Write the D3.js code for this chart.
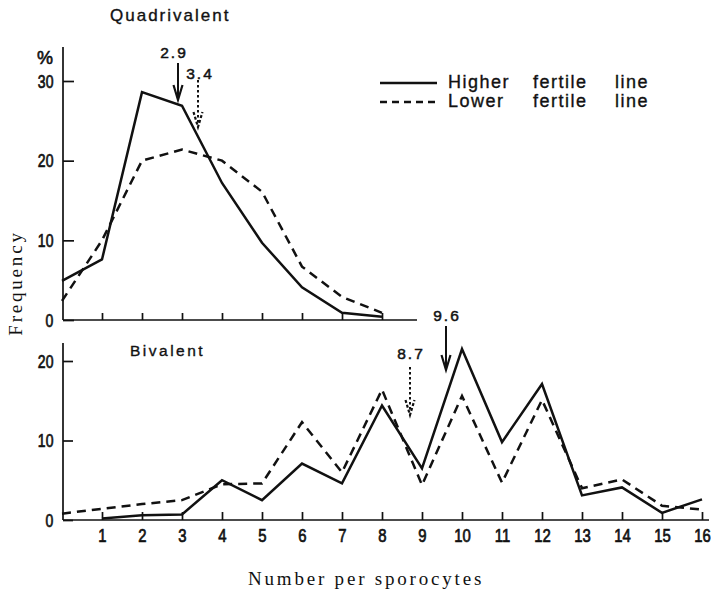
<!DOCTYPE html>
<html>
<head>
<meta charset="utf-8">
<script src="https://cdn.jsdelivr.net/npm/d3@7/dist/d3.min.js"></script>
<style>
  html, body { margin: 0; padding: 0; background: #fff; }
  svg { display: block; }
</style>
</head>
<body>
<svg id="chart" width="711" height="593"></svg>
<script>
// ---------- data ----------
const quadN = [0, 1, 2, 3, 4, 5, 6, 7, 8];
const quadHigher = [4.9, 7.6, 28.6, 26.9, 17.2, 9.7, 4.1, 0.9, 0.4];
const quadLower  = [2.4, 10.0, 20.0, 21.4, 20.0, 16.1, 6.7, 2.9, 0.9];

const bivHigherN = [1, 2, 3, 4, 5, 6, 7, 8, 9, 10, 11, 12, 13, 14, 15, 16];
const bivHigher  = [0.2, 0.6, 0.7, 5.0, 2.5, 7.1, 4.6, 14.4, 6.5, 21.5, 9.8, 17.1, 3.1, 4.1, 0.9, 2.6];
const bivLowerN  = [0, 1, 2, 3, 4, 5, 6, 7, 8, 9, 10, 11, 12, 13, 14, 15, 16];
const bivLower   = [0.8, 1.4, 2.0, 2.5, 4.5, 4.6, 12.3, 6.0, 16.4, 4.4, 15.6, 4.7, 15.1, 4.0, 5.1, 1.8, 1.3];

const quadMeanLabels = ["2.9", "3.4"];
const quadMeanValues = [2.9, 3.4];
const bivMeanLabels  = ["9.6", "8.7"];
const bivMeanValues  = [9.6, 8.7];

const xTicksTop = [1, 2, 3, 4, 5, 6, 7, 8];
const xTicksBottom = [1, 2, 3, 4, 5, 6, 7, 8, 9, 10, 11, 12, 13, 14, 15, 16];
const yTicksTop = [0, 10, 20, 30];
const yTicksBottom = [0, 10, 20];

const legendLabels = [["Higher", "fertile", "line"], ["Lower", "fertile", "line"]];

// ---------- setup ----------
const svg = d3.select("#chart");
const ink = "#111";
const digitFont = "'Liberation Sans', Arial, sans-serif";
const serif = "'Liberation Serif', 'Times New Roman', serif";
const dash = "9,6";

const x = d3.scaleLinear().domain([0, 16]).range([62, 702]);
const yTop = d3.scaleLinear().domain([0, 30]).range([320, 81]);
const yBot = d3.scaleLinear().domain([0, 20]).range([520, 361]);
const axisX0 = 63;

function heavy(sel, w) {
  return sel.attr("stroke", ink).attr("stroke-width", w).attr("paint-order", "stroke");
}

function styleAxis(g) {
  g.select(".domain").remove();
  g.selectAll(".tick line").attr("stroke", ink).attr("stroke-width", 1.7);
  heavy(g.selectAll(".tick text"), 0.7)
    .attr("fill", ink)
    .style("font-family", digitFont)
    .style("font-size", "17.5px");
}

// ---------- top panel ----------
const topG = svg.append("g");
topG.append("line").attr("x1", axisX0).attr("x2", axisX0).attr("y1", 47).attr("y2", yTop(0))
  .attr("stroke", ink).attr("stroke-width", 1.7);
topG.append("line").attr("x1", axisX0).attr("x2", 417).attr("y1", yTop(0)).attr("y2", yTop(0))
  .attr("stroke", ink).attr("stroke-width", 1.7);

topG.append("g").attr("transform", `translate(0,${yTop(0)})`)
  .call(d3.axisBottom(x).tickValues(xTicksTop).tickSizeInner(-7).tickSizeOuter(0).tickFormat(""))
  .call(styleAxis);

topG.append("g").attr("transform", `translate(${axisX0},0)`)
  .call(d3.axisLeft(yTop).tickValues(yTicksTop).tickSizeInner(-11).tickSizeOuter(0).tickPadding(12))
  .call(styleAxis)
  .call(g => g.selectAll(".tick text").attr("transform", "scale(0.8,1)").attr("dy", "0.36em"));

heavy(topG.append("text"), 0.6).attr("x", 45).attr("y", 64).attr("text-anchor", "middle")
  .style("font-family", digitFont).style("font-size", "18px").attr("fill", ink).text("%");

heavy(topG.append("text"), 0.35).attr("x", 110).attr("y", 21)
  .style("font-family", digitFont).style("font-size", "17px").style("letter-spacing", "2px")
  .attr("fill", ink).text("Quadrivalent");

const lineGen = (xs, yScale) => d3.line().x((d, i) => x(xs[i])).y(d => yScale(d));

topG.append("path").datum(quadLower).attr("d", lineGen(quadN, yTop))
  .attr("fill", "none").attr("stroke", ink).attr("stroke-width", 2.5).attr("stroke-dasharray", dash);
topG.append("path").datum(quadHigher).attr("d", lineGen(quadN, yTop))
  .attr("fill", "none").attr("stroke", ink).attr("stroke-width", 2.5);

// ---------- bottom panel ----------
const botG = svg.append("g");
botG.append("line").attr("x1", axisX0).attr("x2", axisX0).attr("y1", 343).attr("y2", yBot(0))
  .attr("stroke", ink).attr("stroke-width", 1.7);
botG.append("line").attr("x1", axisX0).attr("x2", 709).attr("y1", yBot(0)).attr("y2", yBot(0))
  .attr("stroke", ink).attr("stroke-width", 1.7);

botG.append("g").attr("transform", `translate(0,${yBot(0)})`)
  .call(d3.axisBottom(x).tickValues(xTicksBottom).tickSizeInner(-8).tickSizeOuter(0).tickPadding(10))
  .call(styleAxis)
  .call(g => g.selectAll(".tick text").attr("transform", "scale(0.85,1)"));

botG.append("g").attr("transform", `translate(${axisX0},0)`)
  .call(d3.axisLeft(yBot).tickValues(yTicksBottom).tickSizeInner(-10).tickSizeOuter(0).tickPadding(12))
  .call(styleAxis)
  .call(g => g.selectAll(".tick text").attr("transform", "scale(0.8,1)").attr("dy", "0.36em"));

heavy(botG.append("text"), 0.35).attr("x", 130).attr("y", 356)
  .style("font-family", digitFont).style("font-size", "15.5px").style("letter-spacing", "2.5px")
  .attr("fill", ink).text("Bivalent");

botG.append("path").datum(bivLower).attr("d", lineGen(bivLowerN, yBot))
  .attr("fill", "none").attr("stroke", ink).attr("stroke-width", 2.5).attr("stroke-dasharray", dash);
botG.append("path").datum(bivHigher).attr("d", lineGen(bivHigherN, yBot))
  .attr("fill", "none").attr("stroke", ink).attr("stroke-width", 2.5);

// ---------- mean arrows ----------
function arrow(g, xv, y1, y2, dotted, label, lx, ly) {
  const px = x(xv);
  g.append("line").attr("x1", px).attr("x2", px).attr("y1", y1).attr("y2", y2 - 3)
    .attr("stroke", ink).attr("stroke-width", 2)
    .attr("stroke-dasharray", dotted ? "2.5,2.5" : null);
  g.append("path").attr("d", `M${px - 4.5},${y2 - 15} L${px},${y2} L${px + 4.5},${y2 - 15}`)
    .attr("fill", "none").attr("stroke", ink).attr("stroke-width", 2.2)
    .attr("stroke-dasharray", dotted ? "3,2" : null);
  heavy(g.append("text"), 0.5).attr("x", px + lx).attr("y", ly).attr("text-anchor", "middle")
    .style("font-family", digitFont).style("font-size", "15.5px").style("letter-spacing", "2px")
    .attr("fill", ink).text(label);
}
arrow(topG, quadMeanValues[0], 63, 100, false, quadMeanLabels[0], -4, 58);
arrow(topG, quadMeanValues[1], 80, 127, true, quadMeanLabels[1], 2, 79);
arrow(botG, bivMeanValues[0], 326, 370, false, bivMeanLabels[0], 1, 321);
arrow(botG, bivMeanValues[1], 367, 415, true, bivMeanLabels[1], 1, 359);

// ---------- legend ----------
const legend = svg.append("g");
const legendY = [83, 102];
const wordX = [448, 533, 615];
legendLabels.forEach((words, i) => {
  legend.append("line").attr("x1", 380).attr("x2", 437).attr("y1", legendY[i]).attr("y2", legendY[i])
    .attr("stroke", ink).attr("stroke-width", 2.5)
    .attr("stroke-dasharray", i === 1 ? "7,5" : null);
  words.forEach((w, j) => {
    heavy(legend.append("text"), 0.35).attr("x", wordX[j]).attr("y", legendY[i] + 5)
      .style("font-family", digitFont).style("font-size", "18px").style("letter-spacing", "1.5px")
      .attr("fill", ink).text(w);
  });
});

// ---------- axis titles ----------
svg.append("text").attr("transform", "translate(22,283) rotate(-90)").attr("text-anchor", "middle")
  .style("font-family", serif).style("font-size", "19px").style("letter-spacing", "2.8px")
  .attr("fill", ink).text("Frequency");

svg.append("text").attr("x", 248).attr("y", 585)
  .style("font-family", serif).style("font-size", "19px").style("letter-spacing", "2.8px")
  .attr("fill", ink).text("Number per sporocytes");
</script>
</body>
</html>
